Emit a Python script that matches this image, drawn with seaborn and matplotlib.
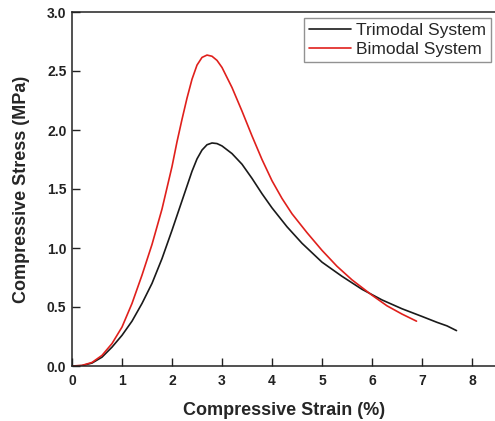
import matplotlib
matplotlib.use("Agg")
import matplotlib.pyplot as plt
import seaborn as sns
import pandas as pd

# Data
tri_strain = [0, 0.2, 0.4, 0.6, 0.8, 1.0, 1.2, 1.4, 1.6, 1.8, 2.0, 2.2, 2.4, 2.5, 2.6, 2.7, 2.8,
              2.9, 3.0, 3.2, 3.4, 3.6, 3.8, 4.0, 4.3, 4.6, 5.0, 5.4, 5.8, 6.2, 6.6, 7.0, 7.3, 7.5, 7.69]
tri_stress = [0, 0.003, 0.025, 0.075, 0.16, 0.26, 0.38, 0.53, 0.70, 0.91, 1.15, 1.40, 1.65, 1.755,
              1.83, 1.875, 1.89, 1.885, 1.865, 1.80, 1.71, 1.59, 1.46, 1.34, 1.18, 1.04, 0.88, 0.76,
              0.65, 0.56, 0.485, 0.42, 0.37, 0.34, 0.30]

bi_strain = [0, 0.2, 0.4, 0.6, 0.8, 1.0, 1.2, 1.4, 1.6, 1.8, 2.0, 2.1, 2.2, 2.3, 2.4, 2.5, 2.6,
             2.7, 2.8, 2.9, 3.0, 3.2, 3.4, 3.6, 3.8, 4.0, 4.2, 4.4, 4.7, 5.0, 5.3, 5.6, 6.0, 6.3,
             6.6, 6.89]
bi_stress = [0, 0.005, 0.03, 0.09, 0.19, 0.33, 0.53, 0.77, 1.03, 1.33, 1.69, 1.90, 2.09, 2.27,
             2.43, 2.55, 2.615, 2.635, 2.625, 2.59, 2.53, 2.36, 2.16, 1.95, 1.75, 1.57, 1.42, 1.29,
             1.13, 0.98, 0.845, 0.73, 0.60, 0.51, 0.44, 0.38]

series_names = ["Trimodal System", "Bimodal System"]
x_ticks = [0, 1, 2, 3, 4, 5, 6, 7, 8]
y_ticks = [0.0, 0.5, 1.0, 1.5, 2.0, 2.5, 3.0]

df = pd.concat([
    pd.DataFrame({"strain": tri_strain, "stress": tri_stress, "series": series_names[0]}),
    pd.DataFrame({"strain": bi_strain, "stress": bi_stress, "series": series_names[1]}),
], ignore_index=True)

sns.set_style("ticks")
plt.rcParams["font.family"] = ["Liberation Sans", "DejaVu Sans"]

W, H = 495, 421
fig = plt.figure(figsize=(W / 100, H / 100), dpi=100)
left, bottom, top = 72 / W, (H - 366) / H, (H - 12) / H
xmax = 8.5
ax = fig.add_axes([left, bottom, xmax * 50 / W, top - bottom])

sns.lineplot(data=df, x="strain", y="stress", hue="series", hue_order=series_names,
             palette=["#1a1a1a", "#e0201c"], sort=False, estimator=None, units="series",
             linewidth=1.2, ax=ax, legend=True)

ax.set_xlim(0, xmax)
ax.set_ylim(0, 3.0)
ax.set_xticks(x_ticks)
ax.set_yticks(y_ticks)
ax.set_xticklabels([str(t) for t in x_ticks], fontweight="bold", fontsize=10)
ax.set_yticklabels([f"{t:.1f}" for t in y_ticks], fontweight="bold", fontsize=10)
ax.tick_params(axis="both", direction="in", length=6, width=1, colors="#222222", labelcolor="#222222")
ax.tick_params(axis="x", pad=6)
ax.tick_params(axis="y", pad=4)
for s in ["left", "bottom", "top"]:
    ax.spines[s].set_linewidth(1.1)
    ax.spines[s].set_color("#222222")
ax.spines["right"].set_visible(False)

ax.set_xlabel("Compressive Strain (%)", fontweight="bold", fontsize=13, labelpad=10)
ax.set_ylabel("Compressive Stress (MPa)", fontweight="bold", fontsize=13, labelpad=12)

leg = ax.legend(loc="upper right", bbox_to_anchor=(491 / W, 1 - 18 / H), bbox_transform=fig.transFigure,
                borderaxespad=0, fontsize=12.5, frameon=True, fancybox=False, handlelength=2.4,
                handletextpad=0.3, labelspacing=0.2, borderpad=0.3)
leg.get_frame().set_edgecolor("#777777")
leg.get_frame().set_linewidth(1.0)
for line in leg.get_lines():
    line.set_linewidth(1.2)

fig.savefig("out.png", dpi=100)
